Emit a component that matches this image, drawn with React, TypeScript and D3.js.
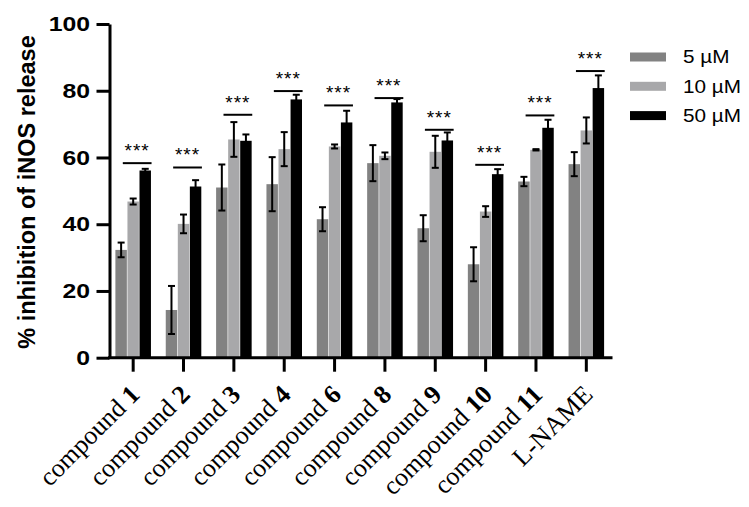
import * as d3 from "d3";
import React, { useRef, useEffect } from "react";

// data
const categories = ["1", "2", "3", "4", "6", "8", "9", "10", "11", "L-NAME"];
const series = ["5 µM", "10 µM", "50 µM"];
const colors = ["#828282", "#a8a8aa", "#000000"];
const values5 = [32.3, 14.3, 51, 52, 41.5, 58.3, 38.8, 28, 52.8, 58];
const errors5 = [2.2, 7.2, 6.9, 8.1, 3.6, 5.4, 3.9, 5.1, 1.4, 3.6];
const values10 = [46.8, 40.1, 65.4, 62.5, 63.3, 60.5, 61.7, 43.8, 62.3, 68.1];
const errors10 = [0.9, 2.8, 5.2, 5.1, 0.6, 1, 4.8, 1.6, 0.2, 3.9];
const values50 = [56.1, 51.3, 65, 77.4, 70.5, 76.5, 65.1, 55, 68.9, 80.8];
const errors50 = [0.5, 1.9, 1.9, 1.4, 3.5, 1, 2.4, 1.5, 2.4, 3.8];
const sigLevels = [58.3, 57, 72.8, 79.9, 75.6, 77.8, 68.3, 57.8, 72.6, 85.9];
const yTicks = [0, 20, 40, 60, 80, 100];

function App() {
    const svgRef = useRef<SVGSVGElement>(null);

    useEffect(() => {
        const w = 749;
        const h = 507;
        const svg = d3.select(svgRef.current)
            .attr("width", w)
            .attr("height", h);
        svg.selectAll("*").remove();

        const left = 108, right = 611.5, top = 24, bottom = 357.7;

        const x0 = d3.scaleBand()
            .domain(categories)
            .range([left, right])
            .paddingInner(0.27)
            .paddingOuter(0.135);

        const x1 = d3.scaleBand()
            .domain(series)
            .range([0, x0.bandwidth()])
            .padding(0.05);

        const y = d3.scaleLinear()
            .domain([0, 100])
            .range([bottom, top]);

        const allVals = [values5, values10, values50];
        const allErr = [errors5, errors10, errors50];

        // bars
        series.forEach((s, si) => {
            const g = svg.append("g");
            g.selectAll("rect")
                .data(categories)
                .join("rect")
                .attr("x", c => x0(c)! + x1(s)!)
                .attr("width", x1.bandwidth())
                .attr("y", (c, i) => y(allVals[si][i]))
                .attr("height", (c, i) => bottom - y(allVals[si][i]))
                .attr("fill", colors[si]);

            // error bars
            categories.forEach((c, i) => {
                const cx = x0(c)! + x1(s)! + x1.bandwidth() / 2;
                const v = allVals[si][i], e = allErr[si][i];
                const eg = g.append("g").attr("stroke", "#000").attr("stroke-width", 2);
                eg.append("line").attr("x1", cx).attr("x2", cx).attr("y1", y(v - e)).attr("y2", y(v + e));
                eg.append("line").attr("x1", cx - 3.5).attr("x2", cx + 3.5).attr("y1", y(v - e)).attr("y2", y(v - e));
                eg.append("line").attr("x1", cx - 3.5).attr("x2", cx + 3.5).attr("y1", y(v + e)).attr("y2", y(v + e));
            });
        });

        // significance lines and stars
        const sig = svg.append("g");
        categories.forEach((c, i) => {
            const xa = x0(c)! + 8;
            const xb = x0(c)! + x0.bandwidth();
            sig.append("line")
                .attr("x1", xa).attr("x2", xb)
                .attr("y1", y(sigLevels[i])).attr("y2", y(sigLevels[i]))
                .attr("stroke", "#000").attr("stroke-width", 2);
            sig.append("text")
                .attr("x", (xa + xb) / 2)
                .attr("y", y(sigLevels[i]) - 6)
                .attr("text-anchor", "middle")
                .attr("font-family", "Liberation Sans, Arial, sans-serif")
                .attr("font-size", 19)
                .attr("letter-spacing", 1)
                .text("***");
        });

        // y axis
        const yAxis = d3.axisLeft(y).tickValues(yTicks).tickSize(13).tickPadding(5).tickSizeOuter(0);
        const ya = svg.append("g")
            .attr("transform", `translate(${left + 1.5}, 0)`)
            .call(yAxis);
        ya.select(".domain").attr("stroke-width", 3);
        ya.selectAll(".tick line").attr("stroke-width", 3);
        ya.selectAll(".tick text")
            .attr("font-family", "Liberation Sans, Arial, sans-serif")
            .attr("font-weight", "bold")
            .attr("font-size", 21)
            .attr("x", -19.5 / 1.18)
            .attr("transform", "scale(1.18,1)")
            .attr("fill", "#000");

        // x axis
        const xAxis = d3.axisBottom(x0).tickSize(14).tickSizeOuter(0).tickFormat(() => "");
        const xa = svg.append("g")
            .attr("transform", `translate(0, ${bottom})`)
            .call(xAxis);
        xa.select(".domain").attr("stroke-width", 3).attr("d", `M${left},0H${right + 1}`);
        xa.selectAll(".tick line").attr("stroke-width", 3);

        // x labels
        const lab = svg.append("g");
        categories.forEach(c => {
            const cx = x0(c)! + x0.bandwidth() / 2;
            const t = lab.append("text")
                .attr("transform", `translate(${cx + 8}, 396) rotate(-45)`)
                .attr("text-anchor", "end")
                .attr("font-family", "Liberation Serif, Times New Roman, serif")
                .attr("font-size", 26)
                .attr("fill", "#000");
            if (c === "L-NAME") {
                t.text(c);
            } else {
                t.append("tspan").text("compound ");
                t.append("tspan").attr("font-weight", "bold").text(c);
            }
        });

        // y title
        svg.append("text")
            .attr("transform", `translate(35, 192) rotate(-90)`)
            .attr("text-anchor", "middle")
            .attr("font-family", "Liberation Sans, Arial, sans-serif")
            .attr("font-weight", "bold")
            .attr("font-size", 23.5)
            .text("% inhibition of iNOS release");

        // legend
        const leg = svg.append("g");
        series.forEach((s, si) => {
            const cy = 57 + si * 29.3;
            leg.append("rect")
                .attr("x", 630).attr("y", cy - 4.5)
                .attr("width", 36).attr("height", 9)
                .attr("fill", colors[si]);
            leg.append("text")
                .attr("x", 683 / 1.12).attr("y", cy + 6.5)
                .attr("transform", "scale(1.12,1)")
                .attr("font-family", "Liberation Sans, Arial, sans-serif")
                .attr("font-size", 18.5)
                .text(s);
        });
    }, []);

    return (
        <div className="App">
            <svg ref={svgRef} style={{ position: "absolute", left: 0, top: 0 }}></svg>
        </div>
    );
}

export default App;
